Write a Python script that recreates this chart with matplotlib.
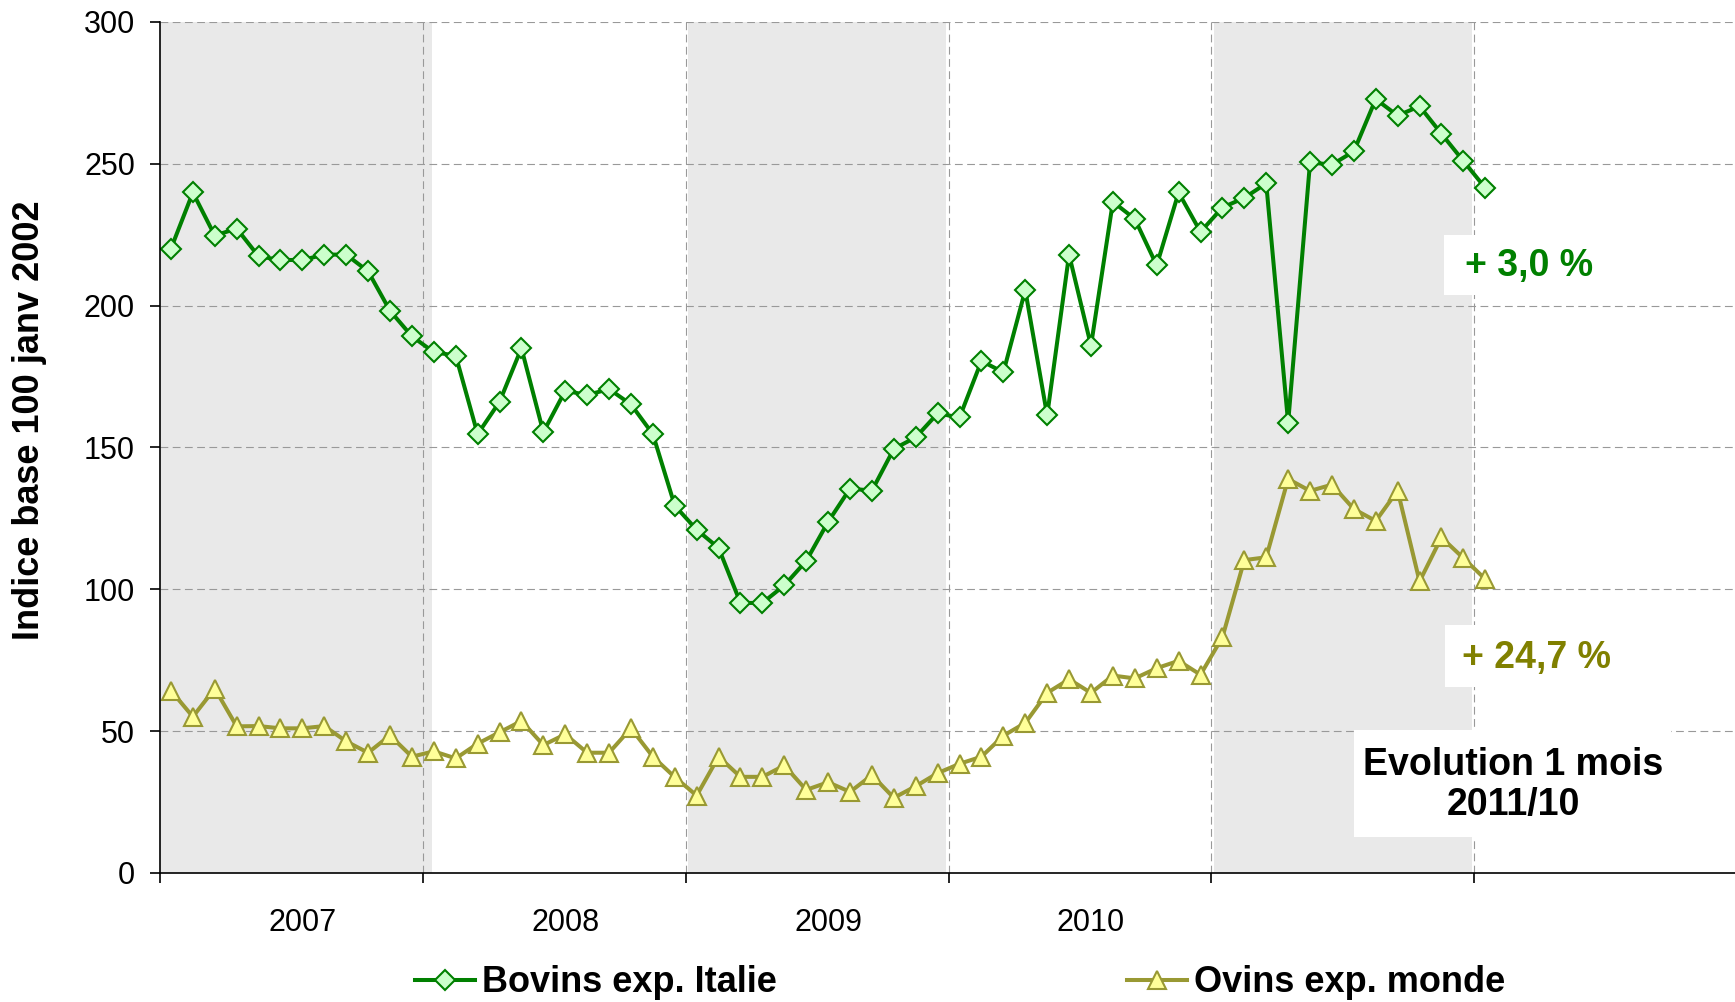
import matplotlib.pyplot as plt
from matplotlib.patches import Rectangle

plt.rcParams['font.family'] = ['Liberation Sans', 'DejaVu Sans']

# indices mensuels (base 100 janv 2002), 61 mois jusqu'a 2011/10
bovins = [220.1, 239.9, 224.7, 227.2, 217.4, 216.1, 216.1, 218.0, 218.0, 212.1,
          198.2, 189.2, 183.6, 182.4, 154.7, 166.1, 185.0, 155.4, 170.0, 168.5,
          170.6, 165.2, 154.7, 129.5, 121.0, 114.6, 95.2, 95.2, 101.4, 110.0,
          123.8, 135.5, 134.8, 149.5, 153.6, 162.0, 160.6, 180.5, 176.5, 205.5,
          161.3, 218.0, 185.9, 236.6, 230.6, 214.2, 239.9, 226.0, 234.6, 238.0,
          243.1, 158.7, 250.5, 249.7, 254.4, 272.8, 267.0, 270.3, 260.6, 251.0, 241.5]
ovins = [64.3, 55.1, 65.0, 51.7, 51.8, 51.0, 51.0, 51.8, 46.4, 42.4,
         48.5, 41.0, 42.9, 40.4, 45.6, 49.6, 53.6, 45.1, 48.9, 42.4,
         42.4, 51.0, 41.0, 33.8, 27.3, 41.0, 33.9, 33.9, 37.9, 29.3,
         32.0, 28.6, 34.5, 26.5, 30.6, 35.2, 38.5, 41.0, 48.4, 52.9,
         63.5, 68.3, 63.5, 69.6, 68.6, 72.2, 74.8, 69.9, 83.1, 110.3,
         111.3, 138.9, 134.7, 136.9, 128.3, 124.1, 134.8, 102.8, 118.3, 111.0, 103.6]
years = ['2007', '2008', '2009', '2010']
year_pos = [6, 18, 30, 42]
bounds = [-0.5, 11.5, 23.5, 35.5, 47.5, 59.5]
months = list(range(len(bovins)))

fig = plt.figure(figsize=(17.35, 10.02), dpi=100)
ax = fig.add_axes([160 / 1735, 1 - 873 / 1002, 1 - 160 / 1735, (873 - 22) / 1002])

# bandes grises une annee sur deux
ax.axvspan(-0.5, 11.9, color='#e9e9e9', lw=0, zorder=0)
ax.axvspan(23.6, 35.4, color='#e9e9e9', lw=0, zorder=0)
ax.axvspan(47.6, 59.4, color='#e9e9e9', lw=0, zorder=0)

grid_kw = dict(color='#999999', lw=0.8, linestyle=(0, (7, 4)), zorder=1)
for v in range(50, 301, 50):
    ax.axhline(v, **grid_kw)
for b in bounds[1:]:
    ax.axvline(b, **grid_kw)

ax.plot(months, bovins, color='#008000', lw=2.9, marker='D', ms=10,
        mfc='#ccffcc', mec='#008000', mew=1.5, zorder=3, label='Bovins exp. Italie')
ax.plot(months, ovins, color='#999933', lw=2.9, marker='^', ms=13.5,
        mfc='#ffff99', mec='#999933', mew=1.5, zorder=3, label='Ovins exp. monde')

ax.set_xlim(-0.5, 71.4)
ax.set_ylim(0, 300)
ax.set_yticks(range(0, 301, 50))
ax.set_xticks(bounds)
ax.set_xticklabels([])
ax.set_xticks(year_pos, minor=True)
ax.set_xticklabels(years, minor=True)
ax.tick_params(axis='x', which='major', direction='out', length=7, width=1.2)
ax.tick_params(axis='x', which='minor', length=0, pad=25, labelsize=22)
ax.tick_params(axis='y', direction='out', length=7, width=1.2, pad=11, labelsize=22)
for s in ['top', 'right']:
    ax.spines[s].set_visible(False)
for s in ['left', 'bottom']:
    ax.spines[s].set_linewidth(1.2)
    ax.spines[s].set_zorder(4)

fig.text(30 / 1735, 1 - 420 / 1002, 'Indice base 100 janv 2002', rotation=90,
         ha='center', va='center', fontsize=26, fontweight='bold')

# encadres blancs des evolutions
def box(x0, y0, x1, y1):
    fig.add_artist(Rectangle((x0 / 1735, 1 - y1 / 1002), (x1 - x0) / 1735, (y1 - y0) / 1002,
                             transform=fig.transFigure, facecolor='white', edgecolor='none', zorder=2))

box(1444, 235, 1620, 295)
box(1445, 625, 1630, 687)
box(1354, 730, 1671, 837)
fig.text(1529 / 1735, 1 - 266 / 1002, '+ 3,0 %', color='#008000', fontsize=27,
         fontweight='bold', ha='center', va='center', zorder=3)
fig.text(1536 / 1735, 1 - 658 / 1002, '+ 24,7 %', color='#808000', fontsize=27,
         fontweight='bold', ha='center', va='center', zorder=3)
fig.text(1513 / 1735, 1 - 785 / 1002, 'Evolution 1 mois\n2011/10', color='black', fontsize=27,
         fontweight='bold', ha='center', va='center', linespacing=1.15, zorder=3)

fig.legend(loc='center left', bbox_to_anchor=(415 / 1735, 1 - 983 / 1002), ncol=2,
           frameon=False, borderpad=0, borderaxespad=0, handlelength=1.65, handletextpad=0.2,
           columnspacing=9.7, numpoints=1, prop={'weight': 'bold', 'size': 26})

fig.savefig('out.png', dpi=100)
